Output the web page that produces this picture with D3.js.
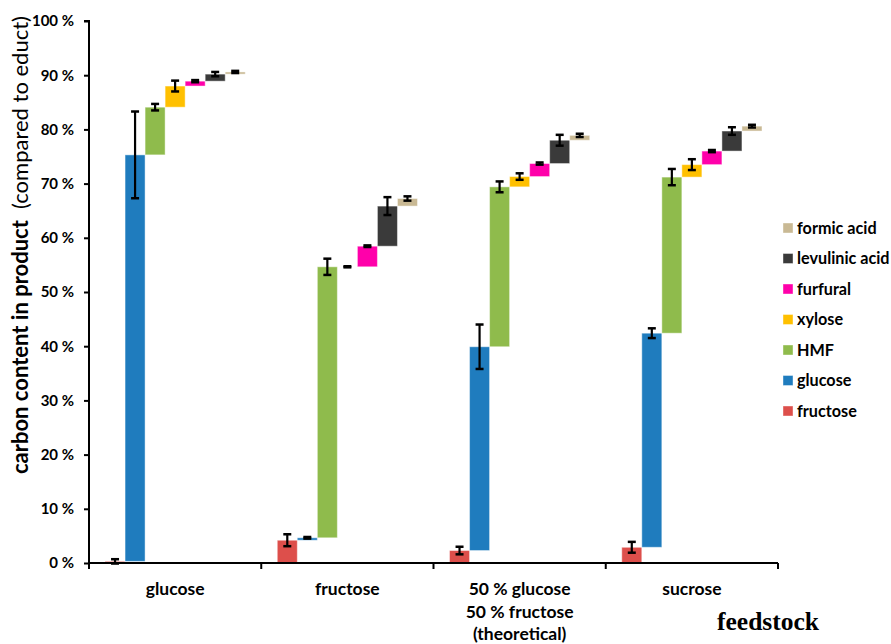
<!DOCTYPE html>
<html>
<head>
<meta charset="utf-8">
<script src="https://cdn.jsdelivr.net/npm/d3@7/dist/d3.min.js"></script>
<style>
  html, body { margin: 0; padding: 0; background: #fff; }
  svg { display: block; }
  text { font-family: Lato, "Open Sans", sans-serif; }
</style>
</head>
<body>
<svg id="chart" width="891" height="644"></svg>
<script>
// ---- data ----
const categories = ["glucose", "fructose", "50 % glucose\n50 % fructose\n(theoretical)", "sucrose"];
const seriesNames = ["fructose", "glucose", "HMF", "xylose", "furfural", "levulinic acid", "formic acid"];
const seriesColors = ["#dd4f4b", "#1f7cbe", "#8fbb4c", "#ffc000", "#ff00aa", "#3a3a3a", "#c9b994"];
// increments (carbon content, %) per feedstock
const fructoseVals  = [0.3, 4.2, 2.3, 2.9];
const glucoseVals   = [75.0, 0.45, 37.6, 39.5];
const hmfVals       = [8.8, 50.0, 29.5, 28.8];
const xyloseVals    = [3.9, 0.0, 1.9, 2.3];
const furfuralVals  = [0.9, 3.8, 2.4, 2.5];
const levulinicVals = [1.3, 7.4, 4.3, 3.7];
const formicVals    = [0.4, 1.4, 0.9, 0.9];
// error (+/-)
const fructoseErr  = [0.4, 1.1, 0.7, 1.0];
const glucoseErr   = [8.0, 0.15, 4.1, 0.9];
const hmfErr       = [0.6, 1.5, 1.0, 1.5];
const xyloseErr    = [1.0, 0.1, 0.6, 1.0];
const furfuralErr  = [0.2, 0.15, 0.2, 0.2];
const levulinicErr = [0.4, 1.65, 1.0, 0.7];
const formicErr    = [0.2, 0.4, 0.3, 0.25];
const yTicks = [0, 10, 20, 30, 40, 50, 60, 70, 80, 90, 100];

const values = [fructoseVals, glucoseVals, hmfVals, xyloseVals, furfuralVals, levulinicVals, formicVals];
const errors = [fructoseErr, glucoseErr, hmfErr, xyloseErr, furfuralErr, levulinicErr, formicErr];

// build waterfall records
const records = [];
categories.forEach((c, ci) => {
  let cum = 0;
  seriesNames.forEach((s, si) => {
    const v = values[si][ci];
    records.push({cat: c, series: s, si, y0: cum, y1: cum + v, err: errors[si][ci]});
    cum += v;
  });
});

// ---- layout ----
const svg = d3.select("#chart");
const mLeft = 89, mRight = 778, mTop = 21, mBottom = 563;

const x = d3.scaleBand().domain(categories).range([mLeft, mRight]).padding(0);
const xs = d3.scaleBand().domain(seriesNames).range([0, x.bandwidth()]).paddingInner(0).paddingOuter(0.8);
const y = d3.scaleLinear().domain([0, 100]).range([mBottom, mTop]);
const color = d3.scaleOrdinal().domain(seriesNames).range(seriesColors);

// bars
svg.append("g").selectAll("rect").data(records).join("rect")
  .attr("x", d => x(d.cat) + xs(d.series))
  .attr("width", xs.bandwidth())
  .attr("y", d => y(Math.max(d.y0, d.y1)))
  .attr("height", d => Math.abs(y(d.y0) - y(d.y1)))
  .attr("fill", d => color(d.series))
  .attr("stroke", "rgba(255,255,255,0.45)")
  .attr("stroke-width", 1);

// error bars
const eg = svg.append("g").attr("stroke", "#000").attr("stroke-width", 2.2);
records.forEach(d => {
  const cx = x(d.cat) + xs(d.series) + xs.bandwidth() / 2;
  const eTop = y(d.y1 + d.err), eBot = y(d.y1 - d.err);
  eg.append("line").attr("x1", cx).attr("x2", cx).attr("y1", eTop).attr("y2", eBot);
  eg.append("line").attr("x1", cx - 4).attr("x2", cx + 4).attr("y1", eTop).attr("y2", eTop).attr("stroke-width", 2.5);
  eg.append("line").attr("x1", cx - 4).attr("x2", cx + 4).attr("y1", eBot).attr("y2", eBot).attr("stroke-width", 2.5);
});

// y axis
const yAxis = d3.axisLeft(y).tickValues(yTicks).tickSize(5).tickPadding(10).tickFormat(d => d + " %");
const yg = svg.append("g").attr("transform", `translate(${mLeft},0)`).call(yAxis);
yg.select(".domain").attr("stroke", "#000").attr("stroke-width", 2).attr("d", `M-5,${mTop}H0V${mBottom}`);
yg.selectAll(".tick line").attr("stroke", "#000").attr("stroke-width", 2);
yg.selectAll(".tick text").attr("font-weight", "bold")
  .attr("font-size", 15).attr("fill", "#000");

// x axis
const boundaries = categories.map(c => x(c)).concat([mRight]);
const xg = svg.append("g");
xg.append("line").attr("x1", mLeft).attr("x2", mRight).attr("y1", mBottom).attr("y2", mBottom)
  .attr("stroke", "#000").attr("stroke-width", 2);
xg.selectAll("line.tk").data(boundaries).join("line").attr("class", "tk")
  .attr("x1", d => d).attr("x2", d => d).attr("y1", mBottom).attr("y2", mBottom + 6)
  .attr("stroke", "#000").attr("stroke-width", 2);
categories.forEach(c => {
  const lines = c.split("\n");
  const t = svg.append("text").attr("x", x(c) + x.bandwidth() / 2).attr("y", 595)
    .attr("text-anchor", "middle").attr("font-weight", "bold").attr("font-size", 17.5).attr("fill", "#000");
  lines.forEach((l, i) => t.append("tspan").attr("x", x(c) + x.bandwidth() / 2).attr("dy", i === 0 ? 0 : 22.5).text(l));
});

// axis titles
svg.append("text").attr("x", 768).attr("y", 630).attr("text-anchor", "middle")
  .style("font-family", "'Liberation Serif', 'DejaVu Serif', serif").attr("font-weight", "bold")
  .attr("font-size", 25.5).attr("fill", "#000").text("feedstock");

const yTitle = svg.append("text").attr("transform", "translate(28,245) rotate(-90)")
  .attr("text-anchor", "middle").attr("font-size", 22).attr("fill", "#000");
yTitle.append("tspan").attr("font-weight", "bold").text("carbon content in product");
yTitle.append("tspan").attr("font-weight", "normal").text("\u00a0\u00a0(compared to educt)");

// legend
const legendOrder = seriesNames.slice().reverse();
const lg = svg.append("g");
legendOrder.forEach((s, i) => {
  const ly = 228 + i * 30.5;
  lg.append("rect").attr("x", 783).attr("y", ly - 5).attr("width", 10).attr("height", 10)
    .attr("fill", color(s)).attr("stroke", "rgba(255,255,255,0.5)").attr("stroke-width", 0.8);
  lg.append("text").attr("x", 797).attr("y", ly).attr("dy", "0.35em")
    .attr("font-weight", "bold").attr("font-size", 16.2).attr("fill", "#000").text(s);
});
</script>
</body>
</html>
